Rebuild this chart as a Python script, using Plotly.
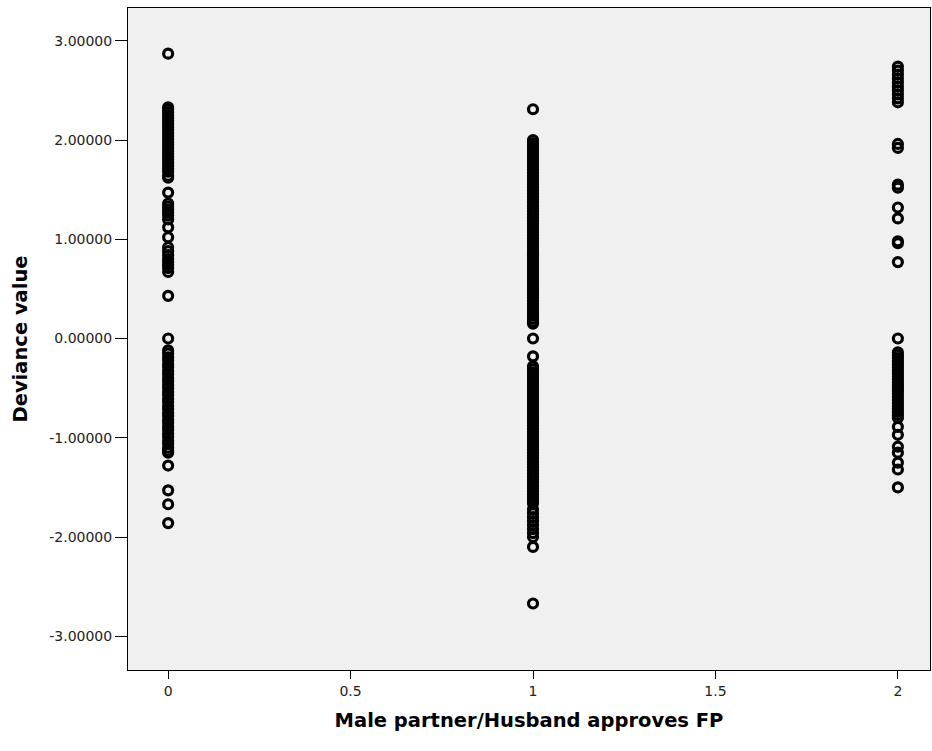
import plotly.graph_objects as go

# Deviance values, by group of "Male partner/Husband approves FP"
dev_0 = [2.87, 2.33, 2.31, 2.28, 2.25, 2.22, 2.19, 2.16, 2.13, 2.10, 2.07, 2.04, 2.01,
         1.98, 1.95, 1.92, 1.89, 1.86, 1.83, 1.80, 1.77, 1.74, 1.71, 1.68, 1.64, 1.62,
         1.47, 1.36, 1.33, 1.30, 1.27, 1.24, 1.20, 1.12, 1.02, 0.92, 0.88, 0.84, 0.80,
         0.77, 0.74, 0.71, 0.67, 0.43, 0.00,
         -0.12, -0.15, -0.19, -0.22, -0.26, -0.29, -0.33, -0.36, -0.40, -0.43, -0.47,
         -0.50, -0.54, -0.57, -0.61, -0.64, -0.68, -0.71, -0.75, -0.78, -0.82, -0.85,
         -0.89, -0.92, -0.96, -0.99, -1.03, -1.06, -1.10, -1.13, -1.15, -1.28, -1.53,
         -1.67, -1.86]

dev_1 = [2.31, 2.00, 1.97, 1.94, 1.91, 1.88, 1.85, 1.82, 1.79, 1.76, 1.73, 1.70, 1.67,
         1.64, 1.61, 1.58, 1.55, 1.52, 1.49, 1.46, 1.43, 1.40, 1.37, 1.34, 1.31, 1.28,
         1.25, 1.22, 1.19, 1.16, 1.13, 1.10, 1.07, 1.04, 1.01, 0.98, 0.95, 0.92, 0.89,
         0.86, 0.83, 0.80, 0.77, 0.74, 0.71, 0.68, 0.65, 0.62, 0.59, 0.56, 0.53, 0.50,
         0.47, 0.44, 0.41, 0.38, 0.35, 0.32, 0.29, 0.26, 0.23, 0.20, 0.17, 0.15, 0.00,
         -0.18, -0.28, -0.31, -0.34, -0.37, -0.40, -0.43, -0.46, -0.49, -0.52, -0.55,
         -0.58, -0.61, -0.64, -0.67, -0.70, -0.73, -0.76, -0.79, -0.82, -0.85, -0.88,
         -0.91, -0.94, -0.97, -1.00, -1.03, -1.06, -1.09, -1.12, -1.15, -1.18, -1.21,
         -1.24, -1.27, -1.30, -1.33, -1.36, -1.39, -1.42, -1.45, -1.48, -1.51, -1.54,
         -1.57, -1.60, -1.63, -1.66, -1.72, -1.76, -1.80, -1.84, -1.88, -1.92, -1.96,
         -2.00, -2.10, -2.67]

dev_2 = [2.74, 2.70, 2.66, 2.62, 2.58, 2.54, 2.50, 2.46, 2.42, 2.38, 1.96, 1.92, 1.55,
         1.52, 1.32, 1.21, 0.98, 0.96, 0.77, 0.00,
         -0.14, -0.17, -0.20, -0.23, -0.26, -0.29, -0.32, -0.35, -0.38, -0.41, -0.44,
         -0.47, -0.50, -0.53, -0.56, -0.59, -0.62, -0.65, -0.68, -0.71, -0.74, -0.77,
         -0.80, -0.89, -0.97, -1.09, -1.15, -1.25, -1.32, -1.50]

groups = [0, 1, 2]
group_values = [dev_0, dev_1, dev_2]

y_ticks = [3, 2, 1, 0, -1, -2, -3]
y_tick_text = ["3.00000", "2.00000", "1.00000", "0.00000", "-1.00000", "-2.00000", "-3.00000"]
x_ticks = [0, 0.5, 1, 1.5, 2]
x_tick_text = ["0", "0.5", "1", "1.5", "2"]

xs, ys = [], []
for g, vals in zip(groups, group_values):
    xs += [g] * len(vals)
    ys += vals

fig = go.Figure(go.Scatter(
    x=xs, y=ys, mode="markers",
    marker=dict(symbol="circle-open", size=9, color="black",
                line=dict(width=3.2, color="black")),
    showlegend=False, hoverinfo="x+y",
))

tick_font = dict(family="DejaVu Sans, sans-serif", size=14, color="#222")
title_font = dict(family="DejaVu Sans, sans-serif", size=19.5, color="black")

fig.update_layout(
    width=932, height=751,
    margin=dict(l=128, r=2, t=8, b=81),
    paper_bgcolor="white",
    plot_bgcolor="#F0F0F0",
    font=dict(family="DejaVu Sans, sans-serif", size=14, color="#222"),
)
fig.update_xaxes(
    range=[-0.11, 2.088], tickvals=x_ticks, ticktext=x_tick_text,
    showgrid=False, zeroline=False, showline=True, linecolor="black", linewidth=1,
    mirror=True, ticks="outside", ticklen=8, tickcolor="black",
    tickfont=tick_font,
    title=dict(text="<b>Male partner/Husband approves FP</b>",
               font=title_font, standoff=15),
)
fig.update_yaxes(
    range=[-3.34, 3.33], tickvals=y_ticks, ticktext=y_tick_text,
    showgrid=False, zeroline=False, showline=True, linecolor="black", linewidth=1,
    mirror=True, ticks="outside", ticklen=12, tickcolor="black",
    tickfont=tick_font,
    title=dict(text="<b>Deviance value</b>", font=title_font, standoff=16),
)

fig.write_html("out.html")
